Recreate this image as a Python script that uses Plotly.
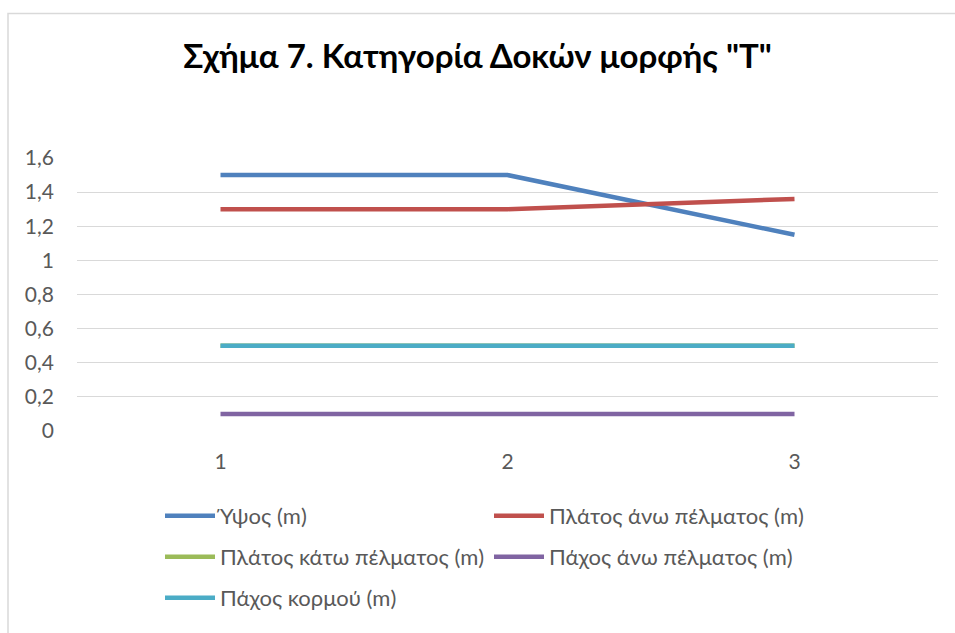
import plotly.graph_objects as go

# Category axis (beam index) and series values in metres
categories = [1, 2, 3]
ypsos = [1.5, 1.5, 1.15]
platos_ano = [1.3, 1.3, 1.36]
platos_kato = [0.5, 0.5, 0.5]
paxos_ano = [0.1, 0.1, 0.1]
paxos_kormou = [0.5, 0.5, 0.5]

series_names = [
    "Ύψος (m)",
    "Πλάτος άνω πέλματος (m)",
    "Πλάτος κάτω πέλματος (m)",
    "Πάχος άνω πέλματος (m)",
    "Πάχος κορμού (m)",
]
series_values = [ypsos, platos_ano, platos_kato, paxos_ano, paxos_kormou]
series_colors = ["#4F81BD", "#C0504D", "#9BBB59", "#8064A2", "#4BACC6"]
# Each legend row is its own legend so the rows can be spaced freely
series_legends = ["legend", "legend", "legend2", "legend2", "legend3"]

FONT = "Lato"
TXT = "#595959"

W, H = 955, 633
L, R, T, B = 77, 17, 158, 202
pw, ph = W - L - R, H - T - B


def px_x(x):
    return (x - L) / pw


def px_y(y):
    return (H - B - y) / ph


fig = go.Figure()
for name, vals, col, lg in zip(series_names, series_values, series_colors, series_legends):
    fig.add_trace(go.Scatter(
        x=categories, y=vals, name=name, mode="lines",
        line=dict(color=col, width=4.5),
        legend=lg,
    ))

legend_common = dict(
    orientation="h", xref="paper", yref="paper",
    xanchor="left", yanchor="middle",
    font=dict(family=FONT, size=22, color=TXT),
    itemwidth=50, entrywidth=264, entrywidthmode="pixels",
    bgcolor="rgba(0,0,0,0)", traceorder="normal",
)

fig.update_layout(
    width=W, height=H,
    margin=dict(l=L, r=R, t=T, b=B),
    paper_bgcolor="white", plot_bgcolor="white",
    separators=",.",
    title=dict(
        text="<b>Σχήμα 7. Κατηγορία Δοκών μορφής \"Τ\"</b>",
        x=0.5, xref="container", xanchor="center",
        y=1 - 56 / H, yanchor="middle",
        font=dict(family=FONT, size=33, color="#000000"),
    ),
    xaxis=dict(
        range=[0.5, 3.5], tickvals=categories, ticktext=[str(c) for c in categories],
        showgrid=False, zeroline=False, showline=False, ticks="",
        tickfont=dict(family=FONT, size=21, color=TXT),
        ticklabelstandoff=16,
    ),
    yaxis=dict(
        range=[0, 1.6], dtick=0.2, tick0=0,
        showgrid=True, gridcolor="#D9D9D9", gridwidth=1.3,
        zeroline=False, showline=False, ticks="",
        tickfont=dict(family=FONT, size=21, color=TXT),
        ticklabelstandoff=22,
    ),
    legend=dict(x=px_x(160), y=px_y(516), **legend_common),
    legend2=dict(x=px_x(160), y=px_y(557), **legend_common),
    legend3=dict(x=px_x(160), y=px_y(598), **legend_common),
    showlegend=True,
)

# Light chart-area frame
fig.add_shape(
    type="rect", xref="paper", yref="paper",
    x0=px_x(8), x1=px_x(W + 20), y0=px_y(H + 20), y1=px_y(13.5),
    line=dict(color="#D9D9D9", width=1.5), fillcolor="rgba(0,0,0,0)", layer="below",
)

fig.write_html("out.html")
